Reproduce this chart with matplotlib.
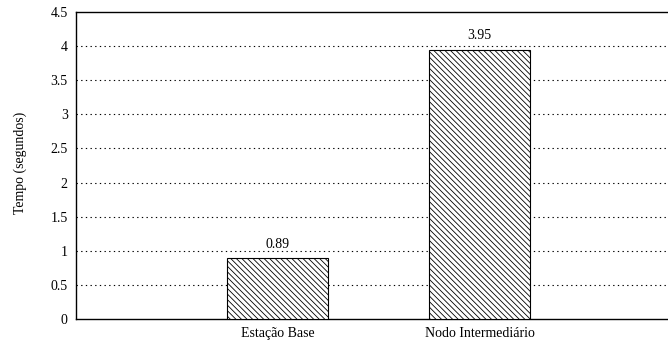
import matplotlib
matplotlib.use("Agg")
import matplotlib.pyplot as plt

# data
categories = ["Estação Base", "Nodo Intermediário"]
tempos = [0.89, 3.95]
yticks = [0, 0.5, 1, 1.5, 2, 2.5, 3, 3.5, 4, 4.5]

plt.rcParams['font.family'] = ['Liberation Serif', 'DejaVu Serif']
plt.rcParams['hatch.linewidth'] = 0.6

fig = plt.figure(figsize=(6.68, 3.42), dpi=100)
ax = fig.add_axes([76 / 668, 23 / 342, 1.02 - 76 / 668, 307 / 342])

x = list(range(len(categories)))
bars = ax.bar(x, tempos, width=0.5, color="white", edgecolor="black",
              hatch="\\\\\\\\\\\\", linewidth=0.8, zorder=3)

for xi, v in zip(x, tempos):
    ax.text(xi, v + 0.2, f"{v:.2f}", ha="center", va="center", fontsize=10)

ax.set_xlim(-1, 2)
ax.set_ylim(0, 4.5)
ax.set_xticks(x)
ax.set_xticklabels(categories, fontsize=10)
ax.set_yticks(yticks)
ax.set_yticklabels([f"{t:g}" for t in yticks], fontsize=10)
ax.tick_params(length=0, pad=6)
ax.set_ylabel("Tempo (segundos)", fontsize=10)
ax.yaxis.set_label_coords(-0.081, 0.51)

for t in yticks[1:-1]:
    ax.axhline(t, color="black", linestyle=(0, (1.2, 3)), linewidth=0.8, zorder=1)

for s in ax.spines.values():
    s.set_linewidth(1.0)

fig.savefig("out.png", dpi=100)
